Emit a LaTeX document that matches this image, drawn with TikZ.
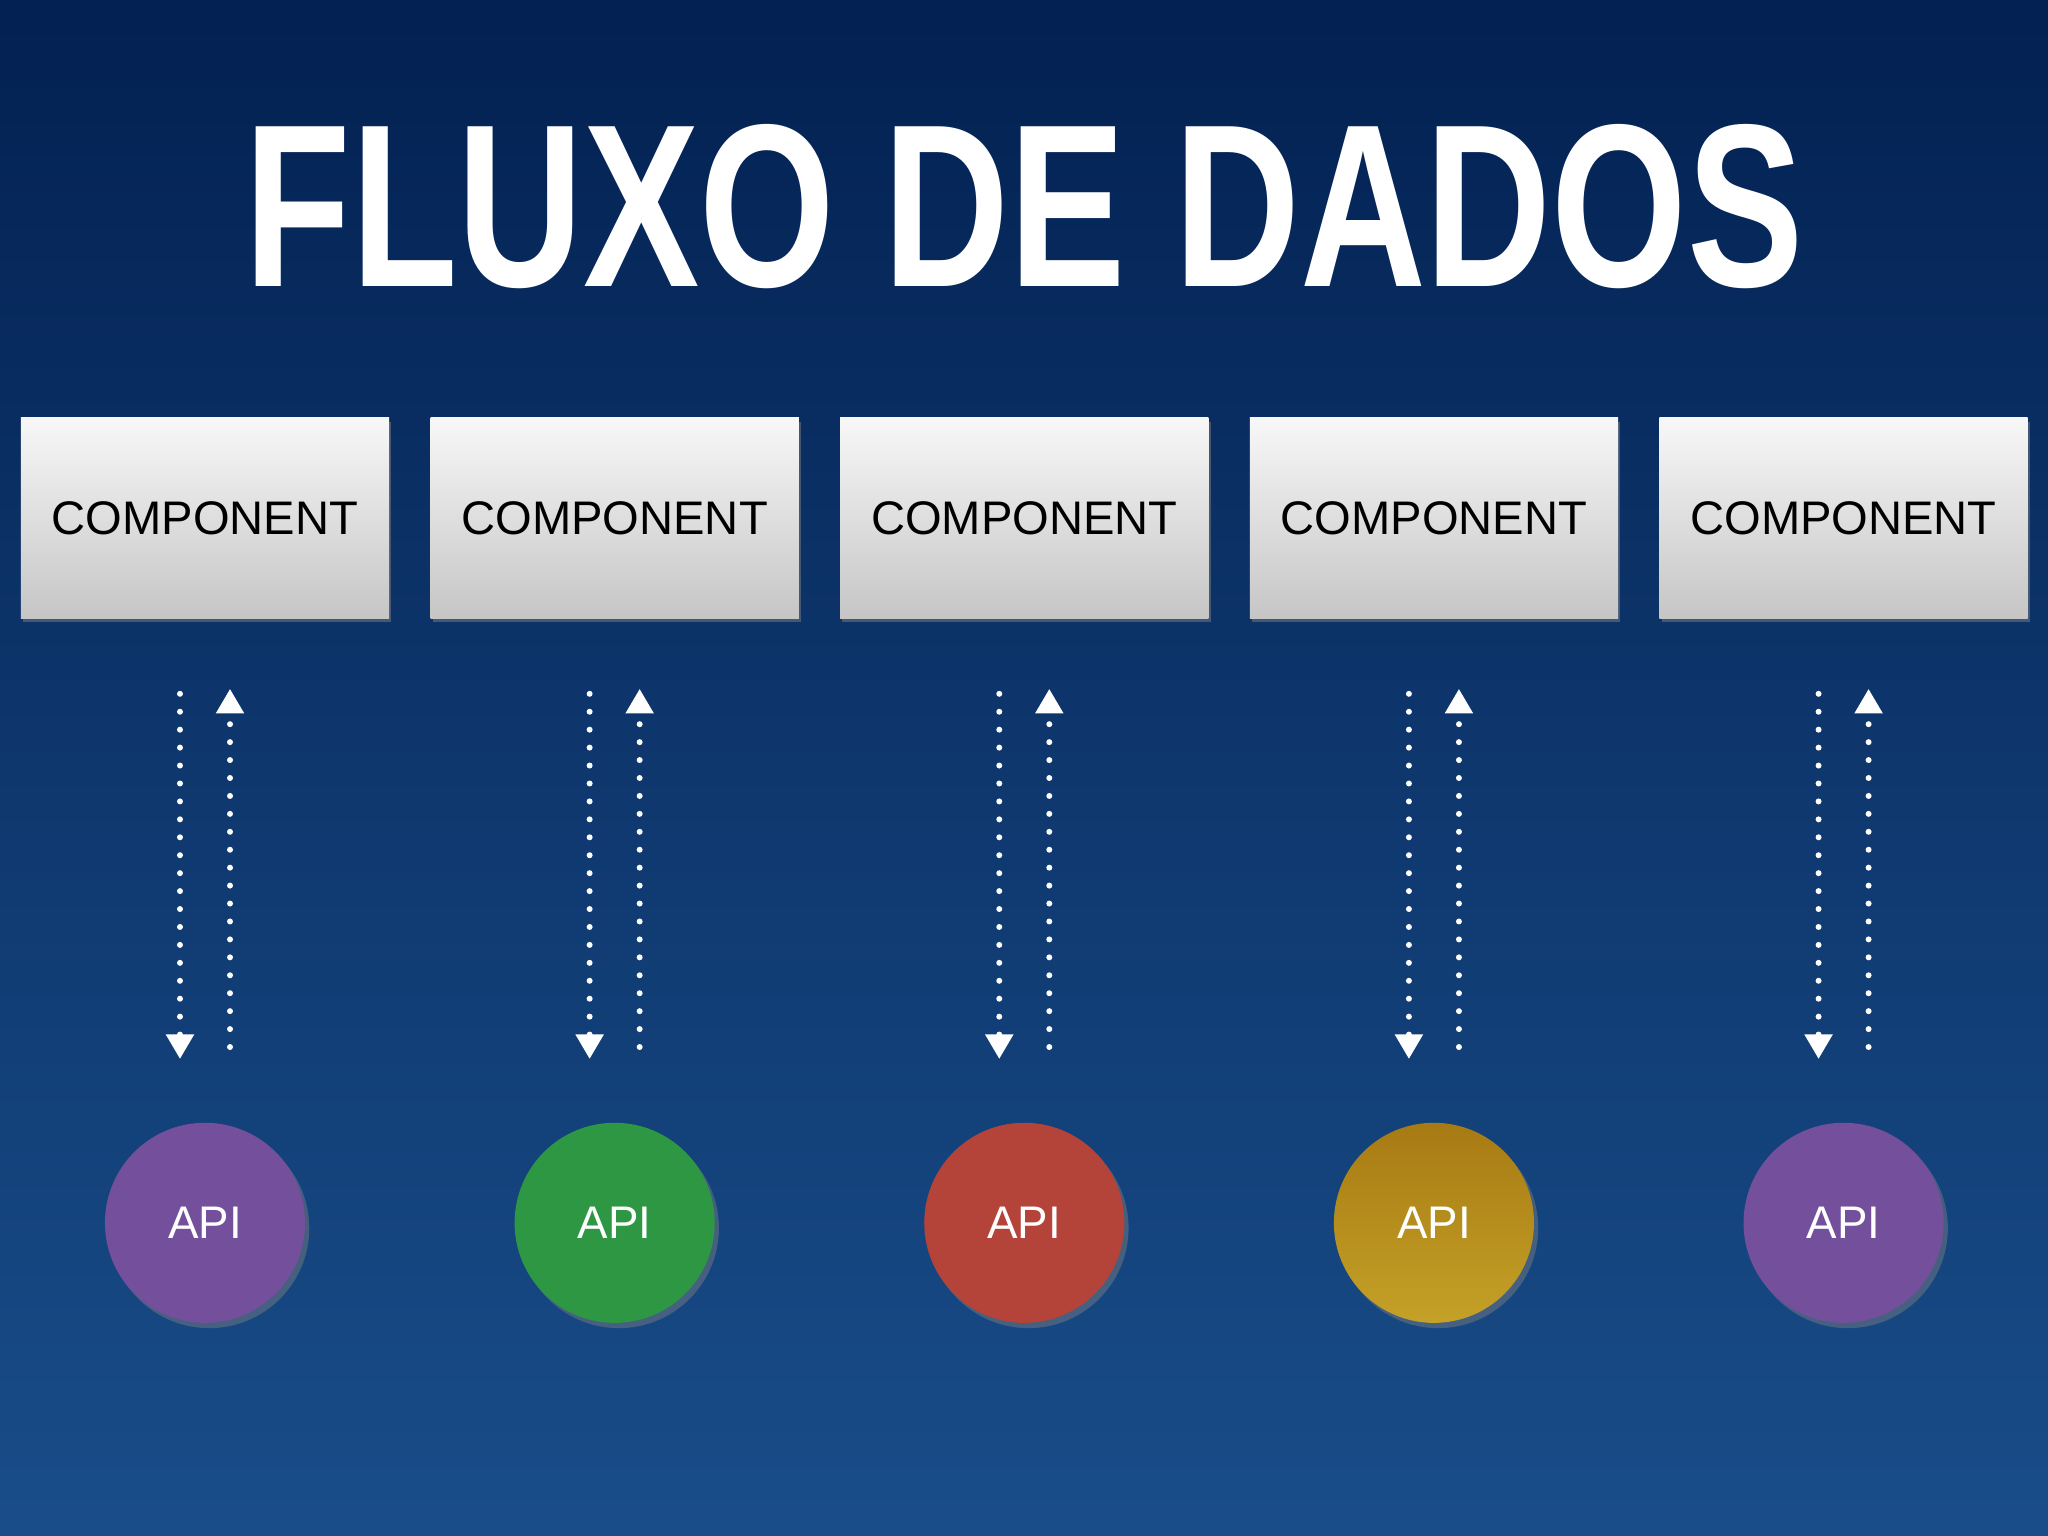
\documentclass[tikz,border=0pt]{standalone}
\usepackage{fontspec}
\setmainfont{Liberation Sans}
\usepackage{graphicx}
\usepackage{xcolor}
\usepackage{tikz}
\usetikzlibrary{chains,positioning,arrows.meta,shadows}

\definecolor{bgtop}{RGB}{3,33,82}
\definecolor{bgmid}{RGB}{13,57,110}
\definecolor{bgbot}{RGB}{25,77,137}
\definecolor{apipurple}{RGB}{116,79,155}
\definecolor{apigreen}{RGB}{46,151,68}
\definecolor{apired}{RGB}{180,68,58}
\definecolor{apigoldtop}{RGB}{167,122,19}
\definecolor{apigoldbot}{RGB}{196,161,39}

\begin{document}
\begin{tikzpicture}[x=0.01cm,y=-0.01cm,
  comp/.style={
   rectangle,
   minimum width=3.68cm,
   minimum height=2cm,
   inner sep=0pt,
   top color=gray!6,
   bottom color=gray!45,
   font=\fontsize{13.4pt}{16pt}\selectfont,
   drop shadow={shadow xshift=0.6pt,shadow yshift=-1.2pt,opacity=0.5}
  },
  api/.style={
    circle,
    minimum size=2cm,
    inner sep=0pt,
    text=white,
    font=\fontsize{13pt}{15pt}\selectfont,
    drop shadow={shadow xshift=1.2pt,shadow yshift=-1.5pt,opacity=0.45}
  },
  flowdown/.style={
    draw=white,
    line width=1.7pt,
    line cap=round,
    dash pattern=on 0pt off 5.1pt,
    -{Triangle[width=7.6pt,length=7pt]},
    shorten <=0.75cm,
    shorten >=0.63cm
  },
  flowup/.style={
    draw=white,
    line width=1.7pt,
    line cap=round,
    dash pattern=on 0pt off 5.1pt,
    -{Triangle[width=7.6pt,length=7pt]},
    shorten <=0.75cm,
    shorten >=0.7cm
  },
	start chain=1,node distance=4mm]
	% background
	\shade[top color=bgtop,middle color=bgmid,bottom color=bgbot] (0,0) rectangle (2048,1536);

	\node[anchor=base west,inner sep=0pt,text=white] at (244,286)
		  (title) {\resizebox{15.58cm}{1.62cm}{\bfseries FLUXO DE DADOS}};

	\node[on chain=1,comp] at (205,518)
		  (c1) {COMPONENT};
	\node[on chain=1,comp]
		  (c2) {COMPONENT};
	\node[on chain=1,comp]
		  (c3) {COMPONENT};
	\node[on chain=1,comp]
		  (c4) {COMPONENT};
	\node[on chain=1,comp]
		  (c5) {COMPONENT};

	\node[api,fill=apipurple,below=5.03cm of c1] (a1) {API};
	\node[api,fill=apigreen,below=5.03cm of c2] (a2) {API};
	\node[api,fill=apired,below=5.03cm of c3] (a3) {API};
	\node[api,top color=apigoldtop,bottom color=apigoldbot,below=5.03cm of c4] (a4) {API};
	\node[api,fill=apipurple,below=5.03cm of c5] (a5) {API};

	\draw[flowdown] ([xshift=-0.25cm]c1.south) -- ([xshift=-0.25cm]a1.north);
	\draw[flowup] ([xshift=0.25cm]a1.north) -- ([xshift=0.25cm]c1.south);
	\draw[flowdown] ([xshift=-0.25cm]c2.south) -- ([xshift=-0.25cm]a2.north);
	\draw[flowup] ([xshift=0.25cm]a2.north) -- ([xshift=0.25cm]c2.south);
	\draw[flowdown] ([xshift=-0.25cm]c3.south) -- ([xshift=-0.25cm]a3.north);
	\draw[flowup] ([xshift=0.25cm]a3.north) -- ([xshift=0.25cm]c3.south);
	\draw[flowdown] ([xshift=-0.25cm]c4.south) -- ([xshift=-0.25cm]a4.north);
	\draw[flowup] ([xshift=0.25cm]a4.north) -- ([xshift=0.25cm]c4.south);
	\draw[flowdown] ([xshift=-0.25cm]c5.south) -- ([xshift=-0.25cm]a5.north);
	\draw[flowup] ([xshift=0.25cm]a5.north) -- ([xshift=0.25cm]c5.south);
\end{tikzpicture}
\end{document}
